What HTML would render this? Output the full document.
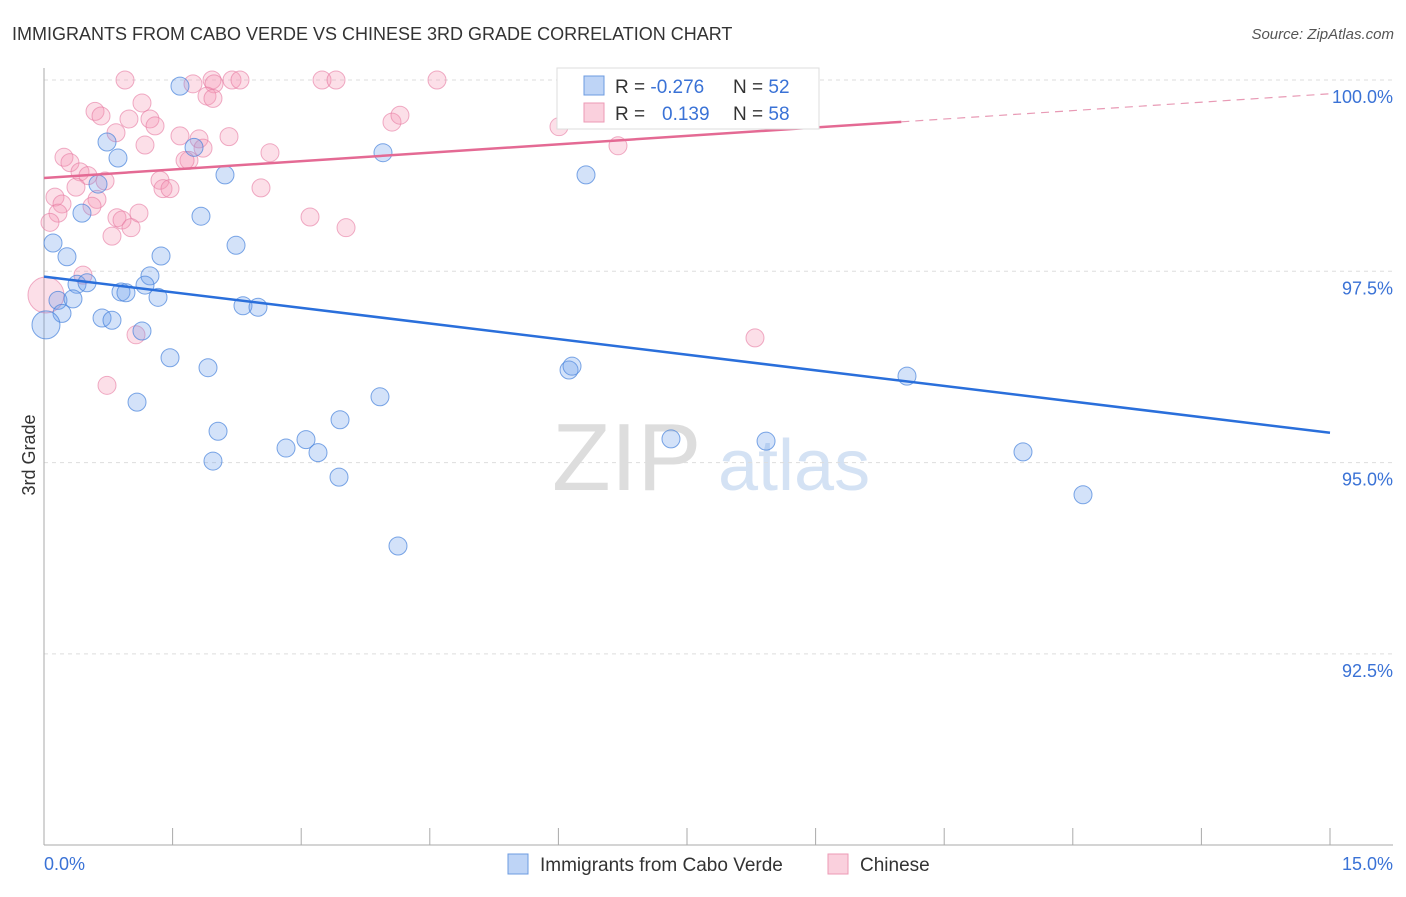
<!DOCTYPE html>
<html><head><meta charset="utf-8"><style>
body{margin:0;background:#fff;font-family:"Liberation Sans",sans-serif}
svg text{font-family:"Liberation Sans",sans-serif}
</style></head><body>
<svg id="chart" width="1406" height="892" xmlns="http://www.w3.org/2000/svg">
<text x="12" y="40" font-size="18" fill="#333">IMMIGRANTS FROM CABO VERDE VS CHINESE 3RD GRADE CORRELATION CHART</text>
<text x="1394" y="39" font-size="15" fill="#555" font-style="italic" text-anchor="end">Source: ZipAtlas.com</text>
<g>
<text x="552" y="490" font-size="96" font-family="Liberation Serif" fill="#ddd">ZIP</text>
<text x="718" y="490" font-size="72" fill="#d4e2f4">atlas</text>
</g>
<g id="grid"></g>
<g id="axes"></g>
<g id="marks"></g>
<text transform="translate(35,455) rotate(-90)" font-size="18" fill="#333" text-anchor="middle">3rd Grade</text>
<g>
<rect x="557" y="68" width="262" height="61" fill="#fff" stroke="#ddd"/>
<rect x="584" y="76" width="20" height="19" fill="rgba(110,160,235,0.45)" stroke="#6c9be0"/>
<rect x="584" y="103" width="20" height="19" fill="rgba(245,150,180,0.45)" stroke="#ec9ab5"/>
<text x="615" y="93" font-size="19" fill="#333">R = <tspan fill="#3a72d6">-0.276</tspan></text>
<text x="733" y="93" font-size="19" fill="#333">N = <tspan fill="#3a72d6">52</tspan></text>
<text x="615" y="120" font-size="19" fill="#333">R = </text>
<text x="662" y="120" font-size="19" fill="#3a72d6">0.139</text>
<text x="733" y="120" font-size="19" fill="#333">N = <tspan fill="#3a72d6">58</tspan></text>
</g>
<g>
<rect x="508" y="854" width="20" height="20" fill="rgba(110,160,235,0.45)" stroke="#6c9be0"/>
<text x="540" y="871" font-size="19" fill="#333">Immigrants from Cabo Verde</text>
<rect x="828" y="854" width="20" height="20" fill="rgba(245,150,180,0.45)" stroke="#ec9ab5"/>
<text x="860" y="871" font-size="19" fill="#333">Chinese</text>
</g>
</svg>
<script>
const blueX=[1.586,0.735,0.863,1.750,2.111,3.954,6.322,0.630,0.443,1.831,0.105,2.240,0.268,1.365,1.236,0.385,0.502,0.898,0.956,1.178,1.330,0.163,0.338,0.210,2.321,2.496,0.677,0.793,1.143,0.023,1.470,1.913,6.124,6.159,10.066,1.085,3.919,3.453,2.030,3.056,2.823,3.196,1.971,3.441,7.313,8.422,11.419,12.119,4.129,7.453,8.666];
const blueY=[99.92,99.19,98.98,99.12,98.76,99.05,98.76,98.64,98.26,98.22,97.87,97.84,97.69,97.70,97.44,97.33,97.35,97.23,97.22,97.32,97.16,97.12,97.14,96.95,97.05,97.03,96.89,96.86,96.72,96.80,96.37,96.24,96.21,96.26,96.13,95.79,95.86,95.56,95.41,95.30,95.19,95.13,95.02,94.81,95.31,95.28,95.14,94.58,93.91,100.0,100.0];
const pinkX=[0.945,1.960,2.193,2.286,3.243,3.406,4.584,1.738,1.983,1.901,1.971,1.143,0.595,0.665,0.991,1.236,1.295,0.840,1.586,2.158,1.808,1.178,1.855,2.636,0.233,0.303,1.691,1.645,0.420,0.513,0.712,1.353,1.388,1.470,0.373,2.531,0.618,0.128,0.210,0.560,0.163,1.108,0.851,0.910,3.103,0.070,1.015,0.793,3.523,0.455,0.023,1.073,0.735,8.293,4.059,4.152,6.007,6.695];
const pinkY=[100,100,100,100,100,100,100,99.95,99.95,99.79,99.76,99.70,99.59,99.53,99.49,99.49,99.40,99.31,99.27,99.26,99.23,99.15,99.11,99.05,98.99,98.92,98.95,98.95,98.80,98.75,98.68,98.69,98.58,98.58,98.60,98.59,98.44,98.47,98.38,98.35,98.26,98.26,98.20,98.17,98.21,98.14,98.07,97.96,98.07,97.45,97.19,96.67,96.01,96.63,99.45,99.54,99.39,99.14];
const blueTrend=[97.43,95.39];
const pinkTrend=[98.72,99.82];
const yTicks=[100,97.5,95,92.5];
const yTickLabels=["100.0%","97.5%","95.0%","92.5%"];
const xTickLabels=["0.0%","15.0%"];
const NS="http://www.w3.org/2000/svg";
const X=v=>44+v/15*1286;
const Y=v=>80+(100-v)/2.5*191.3;
function mk(tag,attrs,parent){const e=document.createElementNS(NS,tag);for(const k in attrs)e.setAttribute(k,attrs[k]);document.getElementById(parent).appendChild(e);return e;}
yTicks.forEach((t,i)=>{
 const g=mk('line',{x1:44,x2:1393,y1:Y(t),y2:Y(t),stroke:'#ddd','stroke-dasharray':'4,4'},'grid');
 
 
 const l=mk('text',{x:1393,y:Y(t)+23,'font-size':18,fill:'#3a72d6','text-anchor':'end'},'axes');
 l.textContent=yTickLabels[i];
 
 
});
let a=mk('line',{x1:44,x2:44,y1:68,y2:845,stroke:'#aaa'},'axes');


a=mk('line',{x1:44,x2:1393,y1:845,y2:845,stroke:'#aaa'},'axes');


for(let i=0;i<=10;i++){
 const t=mk('line',{x1:X(i*1.5),x2:X(i*1.5),y1:828,y2:845,stroke:'#aaa'},'axes');
 
 
}
[[0,44,'start'],[15,1393,'end']].forEach((d,i)=>{
 const t=mk('text',{x:d[1],y:870,'font-size':18,fill:'#3a72d6','text-anchor':d[2]},'axes');
 t.textContent=xTickLabels[i];
 
 
});
pinkX.forEach((x,i)=>{
 const r=(i==50)?18:9;
 const c=mk('circle',{cx:X(x),cy:Y(pinkY[i]),r:r,fill:'rgba(245,150,180,0.3)',stroke:'rgba(230,120,160,0.6)'},'marks');
 
 
});
blueX.forEach((x,i)=>{
 const r=(i==29)?14:9;
 const c=mk('circle',{cx:X(x),cy:Y(blueY[i]),r:r,fill:'rgba(110,160,235,0.3)',stroke:'rgba(70,130,220,0.7)'},'marks');
 
 
});
const pAt=v=>pinkTrend[0]+(pinkTrend[1]-pinkTrend[0])*v/15;
let ln=mk('line',{x1:X(0),y1:Y(blueTrend[0]),x2:X(15),y2:Y(blueTrend[1]),stroke:'#2a6fdb','stroke-width':2.5},'marks');


ln=mk('line',{x1:X(0),y1:Y(pAt(0)),x2:X(10),y2:Y(pAt(10)),stroke:'#e46a94','stroke-width':2.5},'marks');


ln=mk('line',{x1:X(10),y1:Y(pAt(10)),x2:X(15),y2:Y(pAt(15)),stroke:'#e89ab5','stroke-width':1.2,'stroke-dasharray':'8,6'},'marks');


</script>
</body></html>
